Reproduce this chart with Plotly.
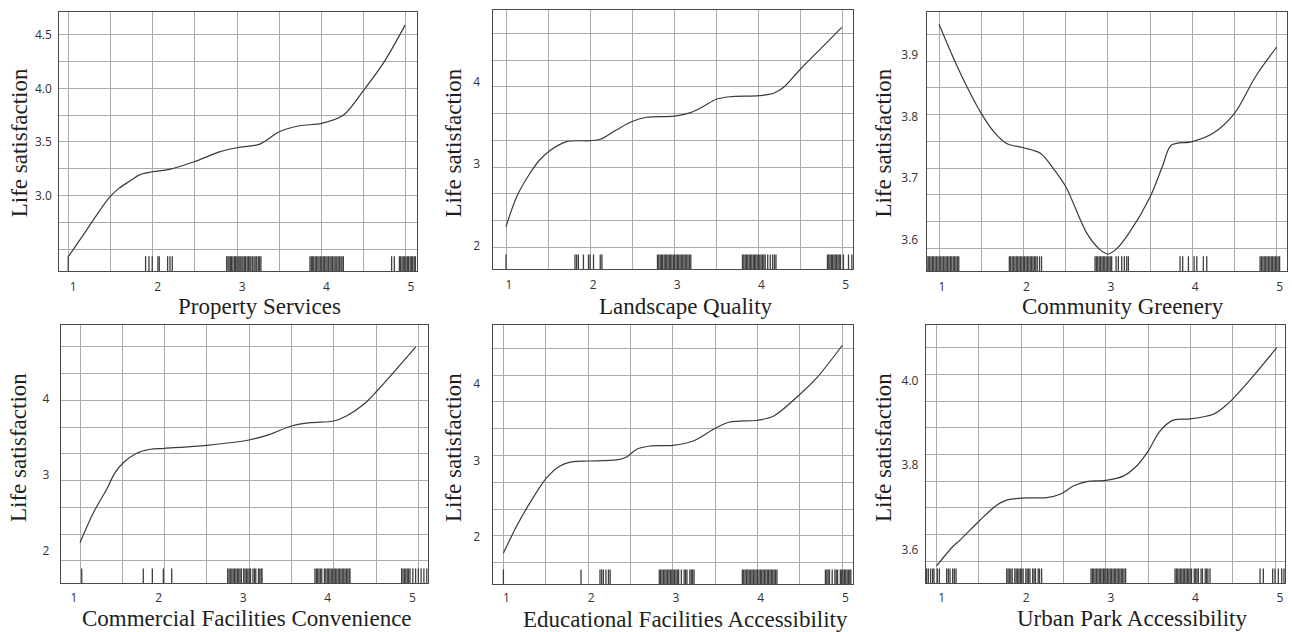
import plotly.graph_objects as go

W, H = 1292, 632

# ---------------- data ----------------
x_titles = ["Property Services", "Landscape Quality", "Community Greenery",
            "Commercial Facilities Convenience", "Educational Facilities Accessibility",
            "Urban Park Accessibility"]
y_title = "Life satisfaction"
x_ticks = [1, 2, 3, 4, 5]

ps_x = [1.0, 1.217, 1.35, 1.49, 1.6, 1.73, 1.85, 2.0, 2.2, 2.49, 2.8, 3.0, 3.27, 3.5, 3.74, 4.0, 4.26, 4.5, 4.73, 4.99]
ps_y = [2.429, 2.678, 2.834, 2.985, 3.067, 3.135, 3.195, 3.222, 3.244, 3.315, 3.409, 3.446, 3.480, 3.595, 3.651, 3.673, 3.751, 3.984, 4.233, 4.590]
ps_rug = [1.0,
          1.916, 1.956, 1.995, 2.062, 2.078, 2.177, 2.205, 2.232,
          2.876, 2.892, 2.905, 2.921, 2.934, 2.95, 2.968, 2.981, 2.997, 3.012, 3.025, 3.043, 3.058, 3.07,
          3.088, 3.101, 3.119, 3.134, 3.15, 3.163, 3.181, 3.2, 3.214, 3.232, 3.251, 3.266, 3.282,
          3.863, 3.879, 3.895, 3.908, 3.925, 3.94, 3.957, 3.971, 3.99, 4.004, 4.02, 4.035, 4.052, 4.066,
          4.083, 4.1, 4.114, 4.131, 4.147, 4.162, 4.18, 4.196, 4.211, 4.229, 4.243, 4.258,
          4.83, 4.862, 4.922, 4.936, 4.953, 4.968, 4.985, 5.0, 5.016, 5.031, 5.049, 5.064, 5.08, 5.097, 5.112]
ps_yticks = [3.0, 3.5, 4.0, 4.5]

lq_x = [1.0, 1.127, 1.285, 1.40, 1.52, 1.72, 2.0, 2.12, 2.31, 2.49, 2.67, 3.0, 3.19, 3.34, 3.50, 3.66, 4.01, 4.18, 4.30, 4.50, 4.77, 4.99]
lq_y = [2.235, 2.600, 2.885, 3.047, 3.160, 3.270, 3.282, 3.299, 3.412, 3.513, 3.567, 3.582, 3.623, 3.696, 3.786, 3.817, 3.830, 3.859, 3.932, 4.155, 4.434, 4.662]
lq_rug = [1.0,
          1.82, 1.84, 1.86, 1.92, 1.98, 2.0, 2.04, 2.12, 2.14,
          2.80, 2.815, 2.832, 2.846, 2.861, 2.879, 2.893, 2.91, 2.925, 2.941, 2.957, 2.972, 2.99, 3.004,
          3.021, 3.036, 3.052, 3.068, 3.083, 3.1, 3.115, 3.131, 3.148, 3.163, 3.18, 3.196,
          3.81, 3.826, 3.842, 3.857, 3.873, 3.89, 3.905, 3.921, 3.938, 3.953, 3.968, 3.985, 4.0, 4.016,
          4.032, 4.049, 4.064, 4.08, 4.11, 4.14, 4.168, 4.19, 4.208,
          4.82, 4.835, 4.85, 4.866, 4.88, 4.897, 4.912, 4.928, 4.945, 4.96, 4.975, 5.01, 5.07, 5.11]
lq_yticks = [2, 3, 4]

cg_x = [1.0, 1.19, 1.35, 1.5, 1.65, 1.8, 2.0, 2.2, 2.35, 2.5, 2.75, 2.9, 3.0, 3.1, 3.25, 3.5, 3.65, 3.75, 4.0, 4.25, 4.5, 4.75, 5.0]
cg_y = [3.950, 3.889, 3.843, 3.805, 3.775, 3.756, 3.749, 3.740, 3.716, 3.686, 3.610, 3.584, 3.576, 3.584, 3.610, 3.669, 3.720, 3.753, 3.759, 3.773, 3.805, 3.865, 3.913]
cg_rug = [0.856, 0.872, 0.888, 0.905, 0.921, 0.937, 0.954, 0.97, 0.987, 1.003, 1.02, 1.036, 1.052, 1.069,
          1.085, 1.102, 1.118, 1.135, 1.151, 1.168, 1.184, 1.2, 1.217, 1.234,
          1.833, 1.849, 1.866, 1.882, 1.899, 1.915, 1.932, 1.948, 1.965, 1.981, 1.998, 2.014, 2.031, 2.047,
          2.064, 2.08, 2.097, 2.113, 2.13, 2.146, 2.163, 2.19, 2.214,
          2.848, 2.864, 2.88, 2.897, 2.913, 2.93, 2.946, 2.963, 2.979, 2.996, 3.012, 3.028, 3.045,
          3.097, 3.124, 3.164, 3.195, 3.223, 3.243,
          3.855, 3.886, 3.954, 4.021, 4.053, 4.131, 4.171,
          4.803, 4.819, 4.836, 4.852, 4.869, 4.885, 4.902, 4.918, 4.935, 4.951, 4.968, 4.984, 5.001, 5.017, 5.034]
cg_yticks = [3.6, 3.7, 3.8, 3.9]

cf_x = [1.0, 1.158, 1.315, 1.414, 1.512, 1.67, 1.83, 2.0, 2.5, 3.0, 3.245, 3.5, 3.72, 4.0, 4.15, 4.37, 4.51, 4.74, 4.97]
cf_y = [2.101, 2.498, 2.808, 3.028, 3.160, 3.285, 3.338, 3.351, 3.391, 3.461, 3.536, 3.646, 3.690, 3.713, 3.779, 3.947, 4.110, 4.397, 4.693]
cf_rug = [1.02,
          1.748, 1.855, 1.985, 2.084,
          2.746, 2.762, 2.778, 2.795, 2.811, 2.827, 2.843, 2.86, 2.876, 2.892, 2.908, 2.935, 2.951, 2.967,
          2.984, 3.0, 3.016, 3.045, 3.062, 3.078, 3.11, 3.126, 3.142, 3.152,
          3.778, 3.794, 3.81, 3.826, 3.843, 3.859, 3.89, 3.906, 3.923, 3.939, 3.955, 3.971, 3.988, 4.004,
          4.02, 4.036, 4.053, 4.069, 4.085, 4.101, 4.118, 4.134, 4.15, 4.166, 4.182, 4.192,
          4.803, 4.819, 4.836, 4.852, 4.869, 4.885, 4.902, 4.935, 4.968, 5.0, 5.033, 5.066, 5.1]
cf_yticks = [2, 3, 4]

ef_x = [1.0, 1.157, 1.315, 1.511, 1.669, 1.826, 2.0, 2.337, 2.455, 2.573, 2.73, 3.0, 3.24, 3.5, 3.67, 4.0, 4.19, 4.5, 4.70, 5.0]
ef_y = [1.782, 2.140, 2.446, 2.774, 2.928, 2.984, 2.993, 3.007, 3.046, 3.147, 3.190, 3.199, 3.256, 3.423, 3.505, 3.528, 3.584, 3.869, 4.087, 4.512]
ef_rug = [1.0,
          1.916, 2.14, 2.16, 2.18, 2.21, 2.24, 2.26,
          2.84, 2.856, 2.872, 2.889, 2.905, 2.921, 2.938, 2.954, 2.97, 2.987, 3.003, 3.019, 3.036, 3.052,
          3.068, 3.1, 3.133, 3.15, 3.166, 3.2, 3.217, 3.233, 3.25,
          3.82, 3.836, 3.852, 3.869, 3.885, 3.901, 3.918, 3.934, 3.95, 3.967, 3.983, 3.999, 4.016, 4.032,
          4.048, 4.065, 4.081, 4.097, 4.114, 4.13, 4.146, 4.163, 4.179, 4.195, 4.212, 4.228,
          4.80, 4.816, 4.832, 4.848, 4.88, 4.912, 4.928, 4.944, 4.976, 4.992, 5.008, 5.024, 5.04, 5.056,
          5.072, 5.088, 5.1]
ef_yticks = [2, 3, 4]

up_x = [1.0, 1.197, 1.276, 1.5, 1.709, 1.828, 2.0, 2.3, 2.46, 2.62, 2.776, 3.0, 3.205, 3.364, 3.502, 3.64, 3.798, 4.0, 4.27, 4.39, 4.5, 4.744, 5.02]
up_y = [3.561, 3.608, 3.622, 3.667, 3.705, 3.717, 3.722, 3.723, 3.731, 3.751, 3.761, 3.764, 3.774, 3.798, 3.834, 3.881, 3.907, 3.910, 3.921, 3.937, 3.957, 4.012, 4.079]
up_rug = [0.882, 0.902, 0.929, 0.953, 0.968, 1.008, 1.032, 1.118, 1.138, 1.158, 1.189, 1.209, 1.229,
          1.828, 1.844, 1.86, 1.877, 1.893, 1.924, 1.94, 1.957, 1.973, 1.99, 2.006, 2.022, 2.054, 2.07,
          2.087, 2.103, 2.135, 2.152, 2.168, 2.2, 2.216, 2.241,
          2.825, 2.841, 2.857, 2.873, 2.89, 2.906, 2.922, 2.938, 2.955, 2.971, 2.987, 3.003, 3.02, 3.036,
          3.052, 3.068, 3.085, 3.101, 3.117, 3.133, 3.15, 3.166, 3.182, 3.198, 3.215, 3.234,
          3.818, 3.834, 3.85, 3.866, 3.883, 3.899, 3.915, 3.931, 3.948, 3.964, 3.98, 3.996, 4.013, 4.045,
          4.061, 4.078, 4.094, 4.126, 4.142, 4.175, 4.191, 4.207, 4.232,
          4.823, 4.862, 4.972, 5.0, 5.039, 5.079, 5.106]
up_yticks = [3.6, 3.8, 4.0]

# ---------------- layout/style per panel ----------------
panels = [
    dict(x=ps_x, y=ps_y, rug=ps_rug, yt=ps_yticks, fmt=".1f",
         frame=(59.3, 416.7, 11.7, 271.0), xr=(0.894, 5.127), yr=(2.296, 4.715),
         g0=2.5, gd=0.25, xshift=5, xstand=4, ystand=4, xtp=(259.3, 306.5), ytp=(19.0, 143.3)),
    dict(x=lq_x, y=lq_y, rug=lq_rug, yt=lq_yticks, fmt="d",
         frame=(492.7, 853.3, 10.0, 269.3), xr=(0.842, 5.127), yr=(1.716, 4.873),
         g0=1.984, gd=0.3256, xshift=3, xstand=4, ystand=9, xtp=(686.0, 306.5), ytp=(453.3, 143.3)),
    dict(x=cg_x, y=cg_y, rug=cg_rug, yt=cg_yticks, fmt=".1f",
         frame=(926.7, 1286.7, 12.3, 271.0), xr=(0.854, 5.118), yr=(3.5484, 3.9695),
         g0=3.9337, gd=0.04355, xshift=3, xstand=4, ystand=5, xtp=(1123.3, 307.0), ytp=(883.3, 143.3)),
    dict(x=cf_x, y=cf_y, rug=cf_rug, yt=cf_yticks, fmt="d",
         frame=(61.0, 428.3, 325.3, 583.3), xr=(0.775, 5.118), yr=(1.563, 4.980),
         g0=3.987, gd=0.3543, xshift=-6, xstand=3, ystand=8, xtp=(246.7, 618.8), ytp=(18.3, 447.7)),
    dict(x=ef_x, y=ef_y, rug=ef_rug, yt=ef_yticks, fmt="d",
         frame=(492.7, 852.7, 325.3, 584.3), xr=(0.874, 5.122), yr=(1.375, 4.774),
         g0=2.009, gd=0.3517, xshift=3, xstand=2, ystand=9, xtp=(685.0, 619.0), ytp=(453.3, 447.7)),
    dict(x=up_x, y=up_y, rug=up_rug, yt=up_yticks, fmt=".1f",
         frame=(926.0, 1285.0, 325.3, 583.3), xr=(0.874, 5.118), yr=(3.5195, 4.1323),
         g0=3.5724, gd=0.06335, xshift=5, xstand=3, ystand=4, xtp=(1131.7, 618.8), ytp=(883.3, 447.7)),
]

LINE = "#3a3a3a"
GRID = "#ababab"
FRAME = "#4a4a4a"
TICKFONT = dict(family="Open Sans, DejaVu Sans, sans-serif", size=12, color="#333333")
TITLEFONT = dict(family="Liberation Serif, Times New Roman, serif", size=23, color="#1e1e1e")

fig = go.Figure()
annotations = []
for i, p in enumerate(panels, start=1):
    sfx = "" if i == 1 else str(i)
    xa, ya = "x" + sfx, "y" + sfx
    fig.add_trace(go.Scatter(
        x=p["rug"], y=[p["yr"][0]] * len(p["rug"]), mode="markers",
        marker=dict(symbol="line-ns", size=21, color="#3a3a3a", line=dict(width=1.3, color="#3f3f3f")),
        cliponaxis=True, hoverinfo="skip", xaxis=xa, yaxis=ya))
    fig.add_trace(go.Scatter(
        x=p["x"], y=p["y"], mode="lines",
        line=dict(color=LINE, width=1.2, shape="spline", smoothing=0.9),
        hoverinfo="skip", xaxis=xa, yaxis=ya))

    l, r, t, b = p["frame"]
    fig.layout["xaxis" + sfx] = dict(
        domain=[l / W, r / W], range=list(p["xr"]), anchor=ya,
        tickvals=x_ticks, ticktext=[str(v) for v in x_ticks], ticks="",
        tickfont=TICKFONT, ticklabelshift=int(p["xshift"]), ticklabelstandoff=int(p["xstand"]),
        showgrid=True, gridcolor=GRID, gridwidth=1,
        minor=dict(tick0=1, dtick=0.5, showgrid=True, gridcolor=GRID, gridwidth=1),
        showline=True, mirror=True, linecolor=FRAME, linewidth=1.3, zeroline=False,
        fixedrange=True)
    ytext = [format(v, p["fmt"]) for v in p["yt"]]
    fig.layout["yaxis" + sfx] = dict(
        domain=[1 - b / H, 1 - t / H], range=list(p["yr"]), anchor=xa,
        tickvals=p["yt"], ticktext=ytext, ticks="",
        tickfont=TICKFONT, ticklabelstandoff=int(p["ystand"]),
        showgrid=(i == 1), gridcolor=GRID, gridwidth=1,
        minor=dict(tick0=p["g0"], dtick=p["gd"], showgrid=True, gridcolor=GRID, gridwidth=1),
        showline=True, mirror=True, linecolor=FRAME, linewidth=1.3, zeroline=False,
        fixedrange=True)

    annotations.append(dict(text=x_titles[i - 1], xref="paper", yref="paper",
                            x=p["xtp"][0] / W, y=1 - p["xtp"][1] / H,
                            xanchor="center", yanchor="middle", showarrow=False, font=TITLEFONT))
    annotations.append(dict(text=y_title, xref="paper", yref="paper",
                            x=p["ytp"][0] / W, y=1 - p["ytp"][1] / H, textangle=-90,
                            xanchor="center", yanchor="middle", showarrow=False, font=TITLEFONT))

fig.update_layout(
    width=W, height=H, margin=dict(l=0, r=0, t=0, b=0),
    paper_bgcolor="white", plot_bgcolor="white",
    showlegend=False, hovermode=False, annotations=annotations)

fig.write_html("out.html", config=dict(displayModeBar=False),
               post_script="document.body.style.margin='0';document.body.style.overflow='hidden';")
